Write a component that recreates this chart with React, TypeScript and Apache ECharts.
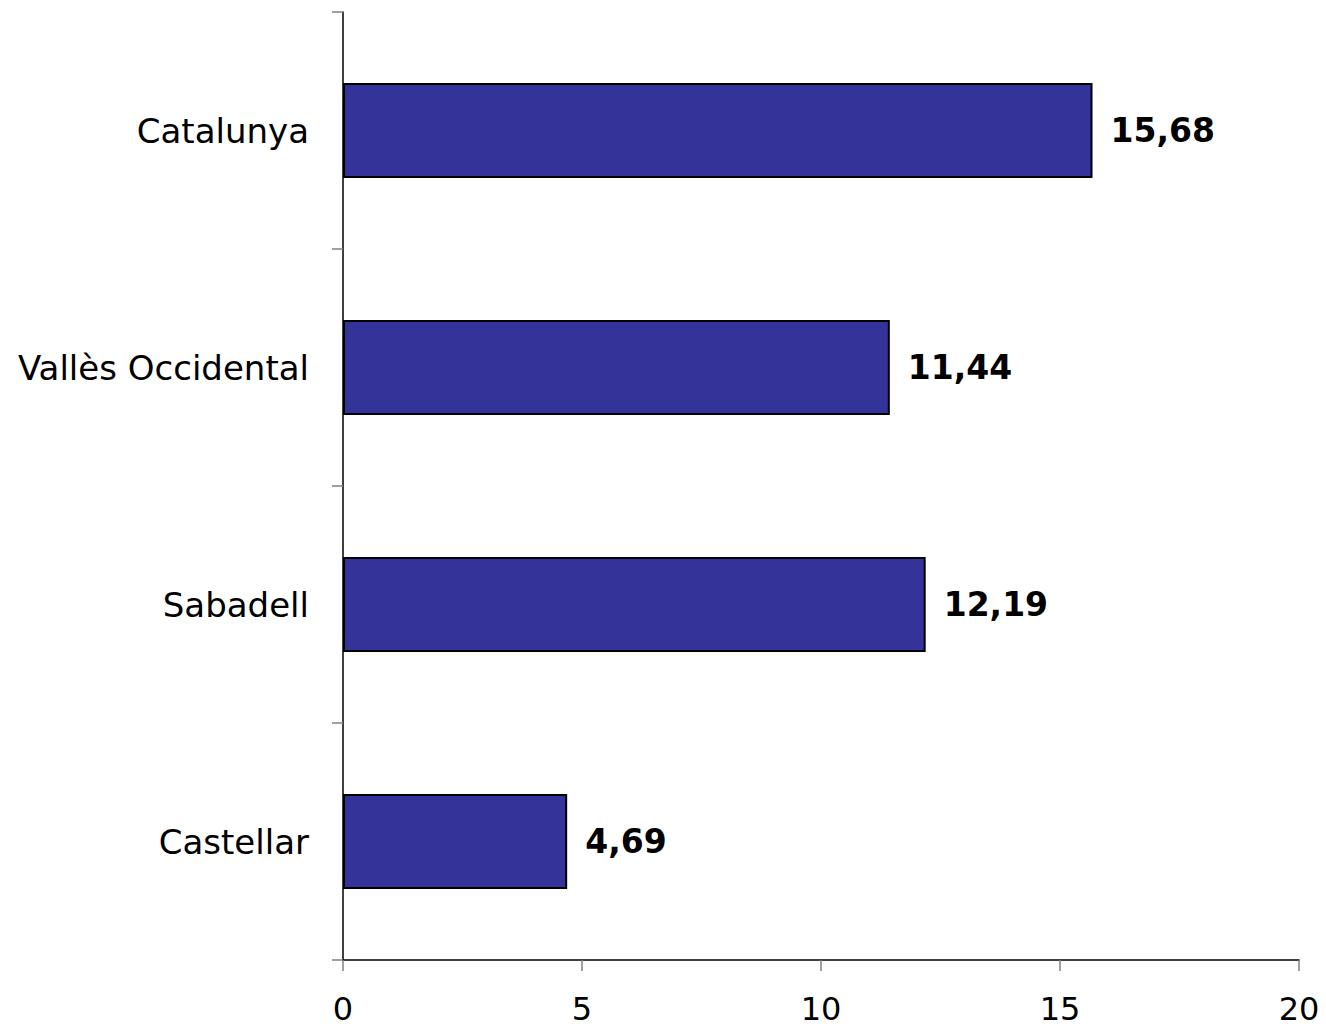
import React, { useEffect, useRef } from "react";
import * as echarts from "echarts";

const categories = ["Castellar", "Sabadell", "Vallès Occidental", "Catalunya"];
const values = [4.69, 12.19, 11.44, 15.68];
const xTicks = { min: 0, max: 20, interval: 5 };

export default function App() {
  const ref = useRef<HTMLDivElement>(null);
  useEffect(() => {
    document.body.style.margin = "0";
    const chart = echarts.init(ref.current!, null, { renderer: "svg" });
    const font = "'DejaVu Sans', Verdana, sans-serif";
    chart.setOption({
      animation: false,
      backgroundColor: "#ffffff",
      grid: { left: 343, right: 27, top: 12, bottom: 70, containLabel: false },
      xAxis: {
        type: "value",
        min: xTicks.min,
        max: xTicks.max,
        interval: xTicks.interval,
        splitLine: { show: false },
        axisLine: { show: true, lineStyle: { color: "#000", width: 1.5 } },
        axisTick: { show: true, length: 11, lineStyle: { color: "#808080", width: 1.5 } },
        axisLabel: { color: "#000", fontSize: 32, fontFamily: font, margin: 32, lineHeight: 34 },
      },
      yAxis: {
        type: "category",
        data: categories,
        axisLine: { show: true, lineStyle: { color: "#000", width: 1.5 } },
        axisTick: { show: true, length: 11, lineStyle: { color: "#808080", width: 1.5 } },
        axisLabel: { color: "#000", fontSize: 34, fontFamily: font, margin: 34 },
      },
      series: [
        {
          type: "bar",
          data: values,
          barCategoryGap: "60%",
          itemStyle: { color: "#333399", borderColor: "#000", borderWidth: 2 },
          label: {
            show: true,
            position: "right",
            distance: 18,
            color: "#000",
            fontSize: 33,
            fontWeight: "bold",
            fontFamily: font,
            formatter: (p: any) => p.value.toFixed(2).replace(".", ","),
          },
        },
      ],
    });
    return () => chart.dispose();
  }, []);
  return <div ref={ref} style={{ width: 1326, height: 1030 }} />;
}
